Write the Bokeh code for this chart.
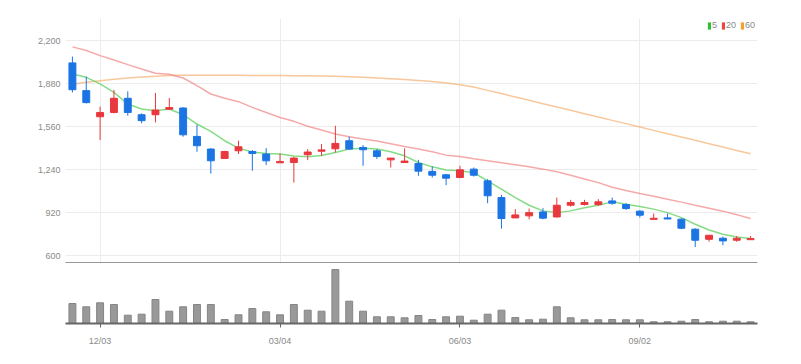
from bokeh.plotting import figure
from bokeh.layouts import column
from bokeh.models import (ColumnDataSource, FixedTicker, Range1d, Legend, LegendItem,
                          NumeralTickFormatter)
from bokeh.embed import file_html
from bokeh.resources import INLINE

NaN = float("nan")

# ---------------- data (weekly candles) ----------------
opens = [2034, 1828, 1634, 1666, 1771, 1649, 1649, 1690, 1699, 1488,
         1394, 1324, 1381, 1376, 1357, 1292, 1294, 1352, 1378, 1396,
         1456, 1406, 1381, 1314, 1294, 1287, 1228, 1203, 1183, 1245,
         1158, 1034, 883, 898, 927, 890, 977, 982, 982, 1009,
         982, 933, 872, 883, 873, 799, 724, 732, 717, 721]
highs = [2081, 1932, 1709, 1833, 1823, 1659, 1811, 1774, 1704, 1575,
         1401, 1381, 1456, 1387, 1401, 1361, 1337, 1394, 1431, 1567,
         1486, 1424, 1394, 1327, 1399, 1314, 1265, 1210, 1270, 1257,
         1171, 1054, 948, 952, 955, 1034, 1017, 1017, 1022, 1034,
         992, 940, 915, 915, 880, 806, 756, 744, 749, 749]
lows = [1815, 1733, 1461, 1659, 1642, 1585, 1592, 1684, 1486, 1374,
        1212, 1320, 1357, 1233, 1275, 1292, 1145, 1312, 1344, 1369,
        1389, 1270, 1320, 1257, 1294, 1195, 1183, 1126, 1178, 1190,
        992, 803, 883, 873, 873, 885, 967, 975, 972, 980,
        942, 885, 870, 873, 799, 667, 706, 680, 706, 721]
closes = [1835, 1739, 1666, 1771, 1666, 1605, 1684, 1702, 1500, 1419,
          1307, 1376, 1411, 1361, 1307, 1302, 1327, 1372, 1388, 1436,
          1394, 1389, 1339, 1327, 1305, 1230, 1200, 1178, 1240, 1200,
          1047, 878, 905, 922, 881, 977, 997, 997, 1002, 992,
          952, 903, 880, 875, 806, 717, 754, 712, 732, 729]
volumes = [200, 167, 207, 190, 83, 93, 240, 123, 167, 190,
           190, 40, 87, 150, 117, 87, 190, 133, 123, 540,
           223, 123, 67, 67, 57, 80, 40, 67, 73, 33,
           93, 133, 60, 37, 43, 167, 57, 37, 37, 40,
           37, 37, 17, 17, 23, 40, 17, 23, 23, 17]
ma5 = [1952, 1927, 1878, 1815, 1729, 1692, 1679, 1692, 1649, 1580,
       1525, 1456, 1401, 1372, 1361, 1357, 1342, 1337, 1346, 1369,
       1394, 1401, 1394, 1374, 1344, 1294, 1262, 1238, 1233, 1218,
       1158, 1096, 1034, 977, 935, 922, 935, 959, 977, 1002,
       985, 967, 948, 922, 885, 836, 793, 761, 741, 729]
ma20 = [2153, 2126, 2088, 2056, 2021, 1989, 1957, 1949, 1922, 1865,
        1803, 1771, 1746, 1704, 1666, 1629, 1600, 1564, 1535, 1506,
        1486, 1468, 1454, 1434, 1413, 1394, 1374, 1349, 1339, 1322,
        1307, 1292, 1277, 1262, 1245, 1225, 1200, 1172, 1145, 1110,
        1086, 1064, 1044, 1022, 1000, 977, 955, 933, 907, 878]
ma60 = [1875, 1890, 1902, 1912, 1922, 1930, 1935, 1940, 1942, 1943,
        1943, 1942, 1942, 1941, 1940, 1940, 1939, 1938, 1936, 1934,
        1931, 1927, 1922, 1917, 1910, 1903, 1895, 1885, 1872, 1855,
        1830, 1806, 1781, 1756, 1731, 1707, 1682, 1657, 1632, 1607,
        1583, 1558, 1533, 1508, 1484, 1459, 1434, 1409, 1384, 1359]
tick_idx = [2, 15, 28, 41]
tick_labels = ["12/03", "03/04", "06/03", "09/02"]
price_ticks = [600, 920, 1240, 1560, 1880, 2200]
legend_labels = ["5", "20", "60"]

UP = "#e8383d"
DOWN = "#1b74e4"
FONT = "'Liberation Sans', Arial, sans-serif"
LABEL_COLOR = "#8a8a8a"

n = len(opens)
xs = list(range(n))
colors = [UP if c >= o else DOWN for o, c in zip(opens, closes)]
src = ColumnDataSource(dict(
    x=xs, open=opens, high=highs, low=lows, close=closes,
    top=[max(o, c) for o, c in zip(opens, closes)],
    bottom=[min(o, c) for o, c in zip(opens, closes)],
    color=colors, vol=volumes, ma5=ma5, ma20=ma20, ma60=ma60))

xr = Range1d(-0.5, n - 0.5)

# ---------------- price panel ----------------
p = figure(frame_width=692, frame_height=245, x_range=xr,
           y_range=Range1d(544.2, 2363.7),
           output_backend="svg", toolbar_location=None,
           min_border_left=65, min_border_right=20, min_border_top=18,
           min_border_bottom=0)
p.outline_line_color = None
p.background_fill_color = "white"
p.xgrid.ticker = FixedTicker(ticks=tick_idx)
p.ygrid.ticker = FixedTicker(ticks=price_ticks)
p.grid.grid_line_color = "#ececec"
p.grid.grid_line_width = 1

p.yaxis.ticker = FixedTicker(ticks=price_ticks)
p.yaxis.formatter = NumeralTickFormatter(format="0,0")
p.yaxis.axis_line_color = None
p.yaxis.major_tick_line_color = None
p.yaxis.minor_tick_line_color = None
p.yaxis.major_tick_out = 0
p.yaxis.major_tick_in = 0
p.yaxis.major_label_standoff = 5
p.yaxis.major_label_text_font = FONT
p.yaxis.major_label_text_font_size = "9px"
p.yaxis.major_label_text_color = LABEL_COLOR

p.xaxis.ticker = FixedTicker(ticks=[])
p.xaxis.axis_line_color = "#333333"
p.xaxis.axis_line_width = 2
p.xaxis.major_tick_line_color = None
p.xaxis.minor_tick_line_color = None
p.xaxis.major_tick_out = 0
p.xaxis.major_tick_in = 0
p.xaxis.major_label_standoff = 0

p.line("x", "ma60", source=src, line_color="#f5a25a", line_alpha=0.6, line_width=1.5)
p.line("x", "ma20", source=src, line_color="#f07070", line_alpha=0.6, line_width=1.5)
p.line("x", "ma5", source=src, line_color="#5cd05c", line_alpha=0.75, line_width=1.5)

p.segment(x0="x", y0="high", x1="x", y1="low", source=src, line_color="color", line_width=1)
p.vbar(x="x", width=0.5, top="top", bottom="bottom", source=src,
       fill_color="color", line_color="color", line_width=1)

# legend swatches (renderers carry no visible data)
swatch_colors = ["#2fbf2f", "#ee4444", "#f5a030"]
items = []
for lab, col in zip(legend_labels, swatch_colors):
    r = p.quad(left=[NaN], right=[NaN], top=[NaN], bottom=[NaN],
               fill_color=col, line_color=None)
    items.append(LegendItem(label=lab, renderers=[r]))
legend = Legend(items=items,
                orientation="horizontal", location="top_right",
                glyph_width=4, glyph_height=9, label_height=10, label_width=5,
                label_standoff=1, spacing=4, padding=0, margin=2,
                border_line_color=None, background_fill_alpha=0,
                label_text_font=FONT, label_text_font_size="9px",
                label_text_color=LABEL_COLOR)
p.add_layout(legend)

# ---------------- volume panel ----------------
v = figure(frame_width=692, frame_height=60, x_range=xr, y_range=Range1d(0, 600),
           output_backend="svg", toolbar_location=None,
           min_border_left=65, min_border_right=20, min_border_top=0,
           min_border_bottom=4)
v.outline_line_color = None
v.grid.visible = False
v.yaxis.visible = False
v.vbar(x="x", width=0.5, top="vol", bottom=0, source=src,
       fill_color="#999999", line_color="#858585", line_width=1)
v.xaxis.ticker = FixedTicker(ticks=tick_idx)
v.xaxis.major_label_overrides = {i: t for i, t in zip(tick_idx, tick_labels)}
v.xaxis.axis_line_color = "#666666"
v.xaxis.axis_line_width = 2
v.xaxis.major_tick_line_color = "#666666"
v.xaxis.major_tick_in = 0
v.xaxis.major_tick_out = 4
v.xaxis.minor_tick_line_color = None
v.xaxis.major_label_standoff = 8
v.xaxis.major_label_text_font = FONT
v.xaxis.major_label_text_font_size = "9px"
v.xaxis.major_label_text_color = LABEL_COLOR

layout = column(p, v, spacing=0)
open("out.html", "w").write(file_html(layout, INLINE))
